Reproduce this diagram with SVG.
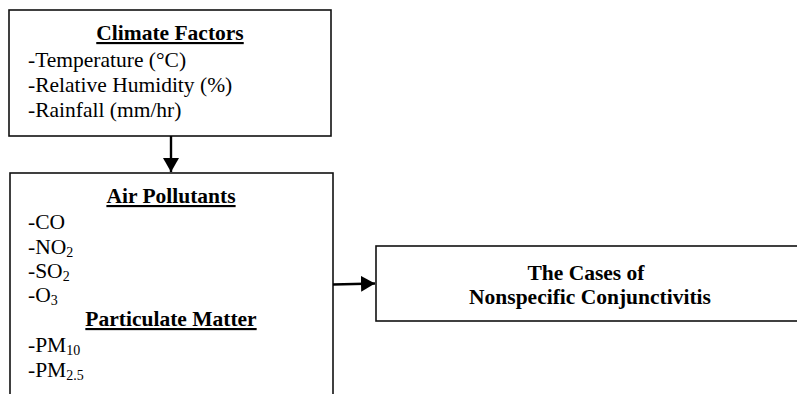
<svg xmlns="http://www.w3.org/2000/svg" width="797" height="394" viewBox="0 0 797 394">
  <defs>
    <style>
      .box { fill: #ffffff; stroke: #111111; stroke-width: 1.6; }
      .h { font-weight: bold; text-decoration: underline; text-anchor: middle; }
      .b { font-weight: bold; text-anchor: middle; }
      .conn { stroke: #000000; stroke-width: 2.4; fill: none; }
    </style>
    <marker id="arrow" markerWidth="14" markerHeight="16" refX="14" refY="8" orient="auto" markerUnits="userSpaceOnUse">
      <path d="M0,0 L14,8 L0,16 Z" fill="#000000"/>
    </marker>
  </defs>
  <rect width="797" height="394" fill="#ffffff"/>

  <g id="climate-factors" font-family="'Liberation Serif', serif" font-size="21.5" fill="#000000">
    <rect class="box" x="9" y="10" width="322" height="126"/>
    <text class="h" x="170" y="40">Climate Factors</text>
    <text x="28" y="67">-Temperature (°C)</text>
    <text x="28" y="92">-Relative Humidity (%)</text>
    <text x="28" y="117">-Rainfall (mm/hr)</text>
  </g>

  <g id="air-pollutants" font-family="'Liberation Serif', serif" font-size="21.5" fill="#000000">
    <rect class="box" x="10" y="173" width="323" height="240"/>
    <text class="h" x="171" y="203">Air Pollutants</text>
    <text x="28" y="229">-CO</text>
    <text x="28" y="254">-NO<tspan font-size="14" dy="3">2</tspan></text>
    <text x="28" y="278">-SO<tspan font-size="14" dy="3">2</tspan></text>
    <text x="28" y="302">-O<tspan font-size="14" dy="3">3</tspan></text>
    <text class="h" x="171" y="326">Particulate Matter</text>
    <text x="28" y="352">-PM<tspan font-size="14" dy="3">10</tspan></text>
    <text x="28" y="377">-PM<tspan font-size="14" dy="3">2.5</tspan></text>
  </g>

  <g id="conjunctivitis" font-family="'Liberation Serif', serif" font-size="21.5" fill="#000000">
    <rect class="box" x="376" y="246" width="430" height="75"/>
    <text class="b" x="586" y="280">The Cases of</text>
    <text class="b" x="590" y="304">Nonspecific Conjunctivitis</text>
  </g>

  <g id="connectors">
    <line class="conn" x1="171" y1="136" x2="171" y2="172" marker-end="url(#arrow)"/>
    <line class="conn" x1="333" y1="284.5" x2="375" y2="283.5" marker-end="url(#arrow)"/>
  </g>
</svg>
